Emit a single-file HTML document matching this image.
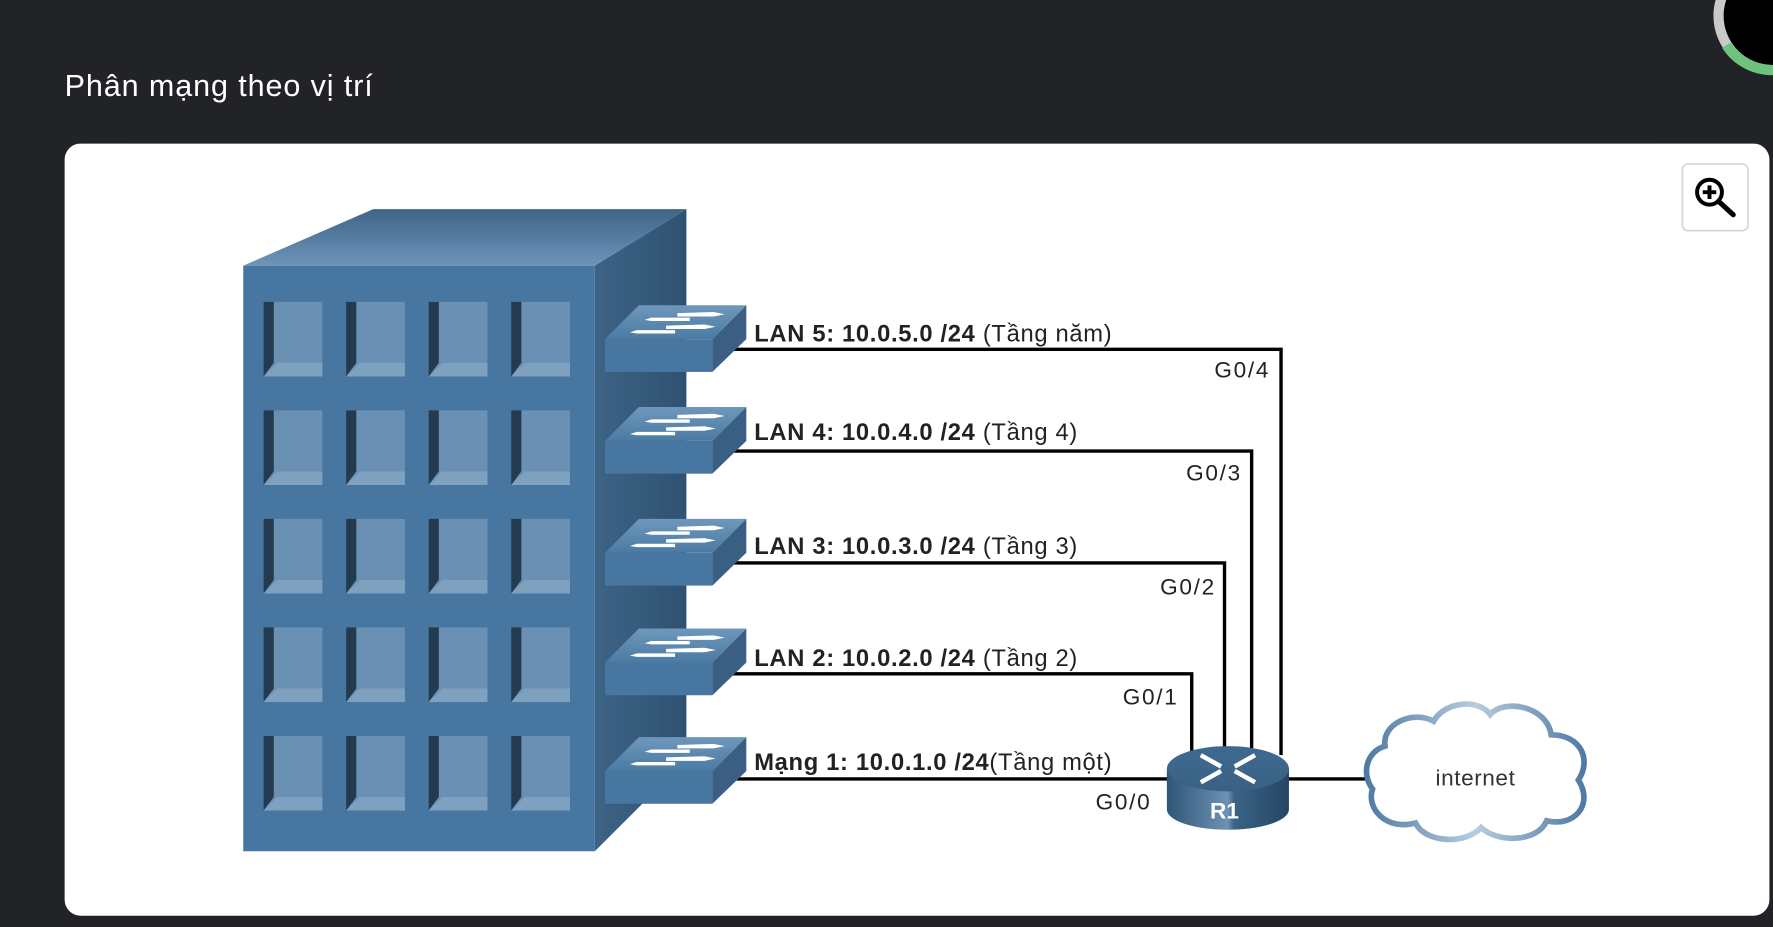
<!DOCTYPE html>
<html><head><meta charset="utf-8"><style>
html,body{margin:0;padding:0;background:#222327;overflow:hidden}
svg{display:block}
text{font-family:"Liberation Sans",sans-serif}
</style></head><body>
<svg width="1773" height="927" viewBox="0 0 1568 820" xmlns="http://www.w3.org/2000/svg">
<defs>
<linearGradient id="top" x1="0" y1="0" x2="0" y2="1"><stop offset="0" stop-color="#3f6488"/><stop offset="1" stop-color="#6c95b9"/></linearGradient>
<linearGradient id="side" x1="0" y1="0" x2="1" y2="0"><stop offset="0" stop-color="#3d6385"/><stop offset="1" stop-color="#2f5272"/></linearGradient>
<linearGradient id="stop" x1="0" y1="1" x2="0" y2="0"><stop offset="0" stop-color="#4a7aa3"/><stop offset="1" stop-color="#6f98bb"/></linearGradient>
<linearGradient id="rbody" x1="0" y1="0" x2="1" y2="0"><stop offset="0" stop-color="#2f5577"/><stop offset="0.5" stop-color="#6f92b3"/><stop offset="0.55" stop-color="#3b6386"/><stop offset="1" stop-color="#264664"/></linearGradient>
<linearGradient id="rtop" x1="0" y1="0" x2="0" y2="1"><stop offset="0" stop-color="#3f6a90"/><stop offset="1" stop-color="#3a6185"/></linearGradient>
<linearGradient id="cl" x1="0" y1="0" x2="1" y2="0"><stop offset="0" stop-color="#4f7aa3"/><stop offset="0.5" stop-color="#b7cde0"/><stop offset="1" stop-color="#4f7aa3"/></linearGradient>
<g id="win">
<rect x="0" y="0" width="52" height="66" fill="#6a91b4"/>
<polygon points="0,66 12,54 52,54 52,66" fill="#7ea1c0"/>
<polygon points="0,0 9,0 9,54 0,66" fill="#233a4f"/>
</g>
<g id="sw">
<polygon points="0,30 30,0 125,0 95,30" fill="url(#stop)"/>
<rect x="0" y="30" width="95" height="29" fill="#4776a0"/>
<polygon points="95,30 125,0 125,30 95,59" fill="#3a5f82"/>
<g fill="#fff">
<polygon points="64,7 96,6 106,8 96,10 64,10"/>
<polygon points="35,13 41,11 75,11 75,14 41,14"/>
<polygon points="54,18 88,17 98,19 88,21 54,21"/>
<polygon points="22,24 28,22 62,22 62,25 28,25"/>
</g>
</g>
</defs>
<circle cx="1568" cy="14" r="48" fill="#000" stroke="#c9c9c9" stroke-width="9"/>
<path d="M1527,40 A48,48 0 0 0 1568,62" fill="none" stroke="#6cc37b" stroke-width="9"/>
<text x="57" y="85" font-size="27" letter-spacing="0.8" fill="#fff">Phân mạng theo vị trí</text>
<rect x="57" y="127" width="1508" height="683" rx="14" fill="#fff"/>
<rect x="1488" y="145" width="58" height="59" rx="5" fill="#fff" stroke="#d6d6d6" stroke-width="1.5"/>
<circle cx="1512" cy="170" r="11" fill="none" stroke="#000" stroke-width="3.5"/>
<line x1="1520" y1="178" x2="1533" y2="190" stroke="#000" stroke-width="4.5" stroke-linecap="round"/>
<path d="M1512,164 v12 M1506,170 h12" stroke="#000" stroke-width="3.5"/>
<polygon points="215,235 330,185 607,185 526,235" fill="url(#top)"/>
<polygon points="526,235 607,185 607,672 526,753" fill="url(#side)"/>
<rect x="215" y="235" width="311" height="518" fill="#4776a0"/>
<g>
<use href="#win" x="233" y="267"/><use href="#win" x="306" y="267"/><use href="#win" x="379" y="267"/><use href="#win" x="452" y="267"/>
<use href="#win" x="233" y="363"/><use href="#win" x="306" y="363"/><use href="#win" x="379" y="363"/><use href="#win" x="452" y="363"/>
<use href="#win" x="233" y="459"/><use href="#win" x="306" y="459"/><use href="#win" x="379" y="459"/><use href="#win" x="452" y="459"/>
<use href="#win" x="233" y="555"/><use href="#win" x="306" y="555"/><use href="#win" x="379" y="555"/><use href="#win" x="452" y="555"/>
<use href="#win" x="233" y="651"/><use href="#win" x="306" y="651"/><use href="#win" x="379" y="651"/><use href="#win" x="452" y="651"/>
</g>
<g fill="none" stroke="#000" stroke-width="3">
<polyline points="645,309 1133,309 1133,668"/>
<polyline points="645,399 1107,399 1107,662"/>
<polyline points="645,498 1083,498 1083,662"/>
<polyline points="645,596 1054,596 1054,668"/>
<line x1="645" y1="689" x2="1040" y2="689"/>
<line x1="1135" y1="689" x2="1212" y2="689"/>
</g>
<use href="#sw" x="535" y="270"/>
<use href="#sw" x="535" y="360"/>
<use href="#sw" x="535" y="459"/>
<use href="#sw" x="535" y="556"/>
<use href="#sw" x="535" y="652"/>
<g font-size="21" fill="#222" letter-spacing="0.6">
<text x="667" y="302"><tspan font-weight="bold">LAN 5: 10.0.5.0 /24</tspan> (Tầng năm)</text>
<text x="667" y="389"><tspan font-weight="bold">LAN 4: 10.0.4.0 /24</tspan> (Tầng 4)</text>
<text x="667" y="490"><tspan font-weight="bold">LAN 3: 10.0.3.0 /24</tspan> (Tầng 3)</text>
<text x="667" y="589"><tspan font-weight="bold">LAN 2: 10.0.2.0 /24</tspan> (Tầng 2)</text>
<text x="667" y="681"><tspan font-weight="bold">Mạng 1: 10.0.1.0 /24</tspan>(Tầng một)</text>
</g>
<g font-size="20" fill="#222" letter-spacing="1.5">
<text x="1074" y="334">G0/4</text>
<text x="1049" y="425">G0/3</text>
<text x="1026" y="526">G0/2</text>
<text x="993" y="623">G0/1</text>
<text x="969" y="716">G0/0</text>
</g>
<path d="M1032,680 v36 a54,18 0 0 0 108,0 v-36 z" fill="url(#rbody)"/>
<ellipse cx="1086" cy="680" rx="54" ry="20" fill="url(#rtop)"/>
<g stroke="#fff" stroke-width="4" fill="none">
<line x1="1062" y1="668" x2="1080" y2="678"/>
<line x1="1092" y1="682" x2="1110" y2="692"/>
<line x1="1110" y1="668" x2="1092" y2="678"/>
<line x1="1080" y1="682" x2="1062" y2="692"/>
</g>
<text x="1083" y="724" font-size="20" font-weight="bold" fill="#fff" text-anchor="middle">R1</text>
<path d="M1225,660 C1222,640 1250,628 1268,638 C1278,620 1308,618 1318,632 C1330,618 1368,624 1372,650 C1398,650 1408,672 1396,690 C1410,712 1392,732 1368,726 C1360,745 1325,746 1310,732 C1295,748 1260,745 1252,728 C1226,735 1208,715 1214,698 C1204,685 1208,665 1225,660 Z" fill="#fff" stroke="url(#cl)" stroke-width="5"/>
<text x="1305" y="695" font-size="20" fill="#333" text-anchor="middle" letter-spacing="0.5">internet</text>
</svg>
</body></html>
